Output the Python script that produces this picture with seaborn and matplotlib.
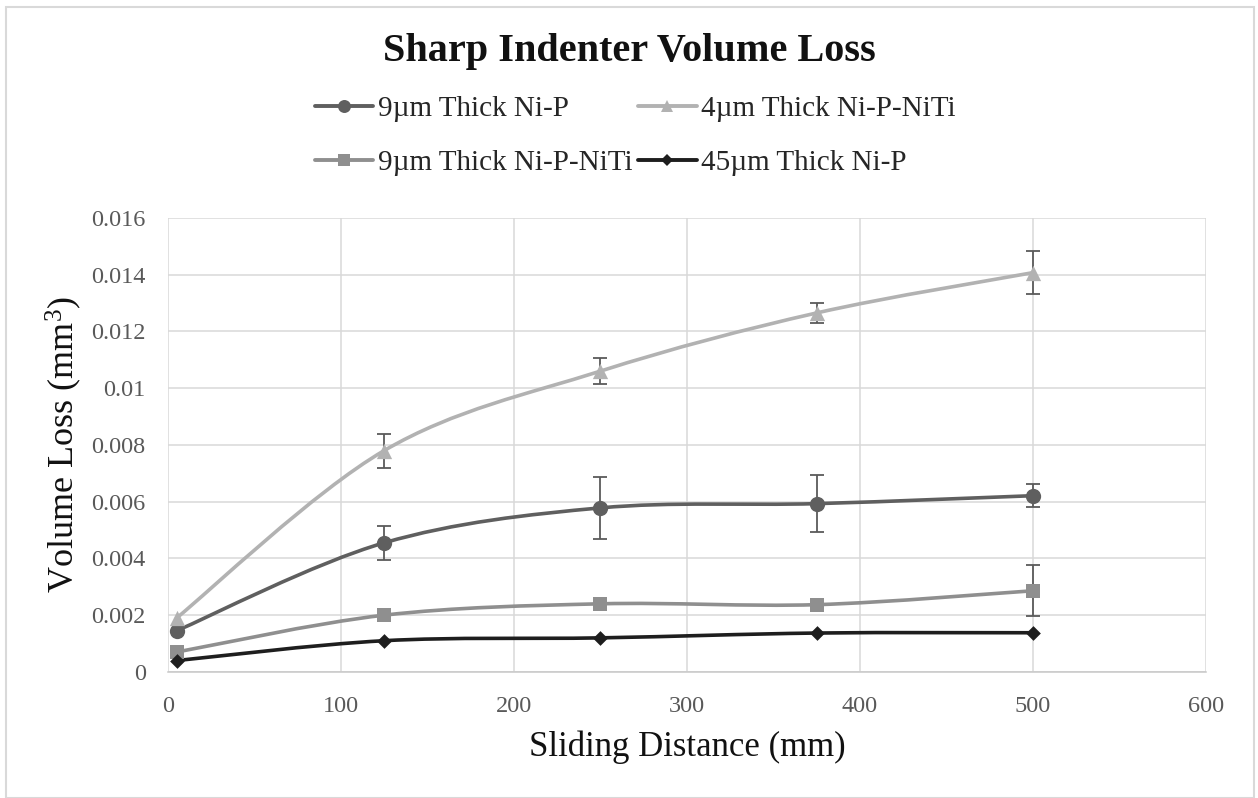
import numpy as np
import pandas as pd
import matplotlib
matplotlib.use("Agg")
import matplotlib.pyplot as plt
from matplotlib.path import Path
from matplotlib.patches import PathPatch, Rectangle
from matplotlib.lines import Line2D
import seaborn as sns

# Sliding distance (mm)
distance = [5, 125, 250, 375, 500]

# Volume loss (mm^3) per coating, with standard-deviation error bars
ni_p_9 = [0.00145, 0.00455, 0.00578, 0.00593, 0.00621]
ni_p_9_err = [np.nan, 0.0006, 0.0011, 0.0010, 0.0004]

niti_4 = [0.0019, 0.0078, 0.0106, 0.01265, 0.01407]
niti_4_err = [np.nan, 0.0006, 0.00045, 0.00035, 0.00075]

niti_9 = [0.0007, 0.0020, 0.0024, 0.00237, 0.00286]
niti_9_err = [np.nan, np.nan, np.nan, np.nan, 0.0009]

ni_p_45 = [0.0004, 0.0011, 0.0012, 0.00137, 0.00138]

labels = ["9µm Thick Ni-P", "4µm Thick Ni-P-NiTi",
          "9µm Thick Ni-P-NiTi", "45µm Thick Ni-P"]

sns.set_theme(style="whitegrid")
plt.rcParams["font.family"] = ["Liberation Serif", "DejaVu Serif"]
plt.rcParams["mathtext.fontset"] = "custom"
plt.rcParams["mathtext.rm"] = "Liberation Serif"
plt.rcParams["mathtext.it"] = "Liberation Serif:italic"

series = [
    dict(y=ni_p_9, err=ni_p_9_err, color="#5f5f5f", marker="o", ms=11),
    dict(y=niti_4, err=niti_4_err, color="#b2b2b2", marker="^", ms=11),
    dict(y=niti_9, err=niti_9_err, color="#8f8f8f", marker="s", ms=10),
    dict(y=ni_p_45, err=[np.nan] * 5, color="#1e1e1e", marker="D", ms=7.5),
]

fig = plt.figure(figsize=(12.58, 7.98), dpi=100)
ax = fig.add_axes([0.1335, 0.158, 0.8252, 0.569])


def smooth_path(xs, ys):
    """Cubic Bezier path through the points (Catmull-Rom style smoothing)."""
    pts = np.column_stack([xs, ys]).astype(float)
    n = len(pts)
    verts = [pts[0]]
    codes = [Path.MOVETO]
    for i in range(n - 1):
        p0 = pts[i - 1] if i > 0 else pts[i]
        p1 = pts[i]
        p2 = pts[i + 1]
        p3 = pts[i + 2] if i + 2 < n else pts[i + 1]
        c1 = p1 + (p2 - p0) / 6.0
        c2 = p2 - (p3 - p1) / 6.0
        verts += [c1, c2, p2]
        codes += [Path.CURVE4] * 3
    return Path(verts, codes)


for s in series:
    ax.add_patch(PathPatch(smooth_path(distance, s["y"]), facecolor="none",
                           edgecolor=s["color"], lw=2.6, zorder=3,
                           capstyle="round", joinstyle="round"))
    err = np.array(s["err"], dtype=float)
    if np.any(~np.isnan(err)):
        ax.errorbar(distance, s["y"], yerr=err, fmt="none", ecolor="#5a5a5a",
                    elinewidth=1.3, capsize=5, capthick=1.3, zorder=4)

for s in series:
    df = pd.DataFrame({"x": distance, "y": s["y"]})
    sns.scatterplot(data=df, x="x", y="y", ax=ax, marker=s["marker"],
                    s=s["ms"] ** 2, color=s["color"], edgecolor=s["color"],
                    linewidth=0, zorder=5, legend=False)

ax.set_xlim(0, 600)
ax.set_ylim(0, 0.016)
ax.set_xticks(np.arange(0, 601, 100))
ax.set_yticks(np.arange(0, 0.0161, 0.002))
ax.set_yticklabels(["0", "0.002", "0.004", "0.006", "0.008", "0.01",
                    "0.012", "0.014", "0.016"])
ax.grid(True, color="#d9d9d9", lw=1.1)
ax.set_axisbelow(True)
for side in ["left", "right", "top"]:
    ax.spines[side].set_visible(False)
ax.spines["bottom"].set_color("#c8c8c8")
ax.spines["bottom"].set_linewidth(1.1)
ax.tick_params(axis="both", length=0, labelsize=17.5, labelcolor="#595959")
ax.tick_params(axis="x", pad=17)
ax.tick_params(axis="y", pad=16)

ax.set_xlabel("Sliding Distance (mm)", fontsize=25, color="#111111", labelpad=10)
ax.set_ylabel("Volume Loss (mm$^3$)", fontsize=26, color="#111111", labelpad=5)

fig.text(0.5, 0.935, "Sharp Indenter Volume Loss", ha="center", va="center",
         fontsize=29, fontweight="bold", color="#111111")

# Two-column legend, filled column by column so rows read across
order = [0, 2, 1, 3]
handles = [Line2D([0], [0], color=series[i]["color"], lw=2.8,
                  marker=series[i]["marker"],
                  markersize=series[i]["ms"] * 0.85, markeredgewidth=0)
           for i in order]
fig.legend(handles, [labels[i] for i in order], loc="center",
           bbox_to_anchor=(0.505, 0.8296), ncol=2, frameon=False,
           fontsize=21, handlelength=2.0, handletextpad=0.15,
           columnspacing=0.2, labelspacing=0.95)

fig.patches.append(Rectangle((0.005, 0.0), 0.992, 0.991, transform=fig.transFigure,
                             fill=False, edgecolor="#d9d9d9", lw=1.5))

fig.savefig("out.png", dpi=100, facecolor="white")
